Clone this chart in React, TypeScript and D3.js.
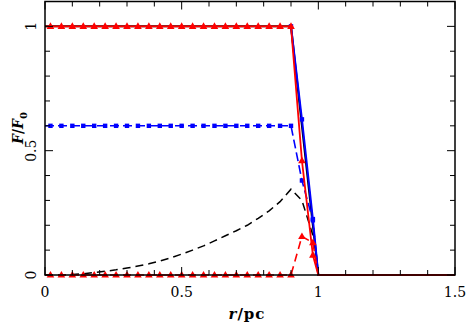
import React from "react";
import * as d3 from "d3";

const r = [0, 0.02, 0.06, 0.10, 0.14, 0.18, 0.22, 0.26, 0.30, 0.34, 0.38, 0.42, 0.46, 0.50, 0.54, 0.58, 0.62, 0.66, 0.70, 0.74, 0.78, 0.82, 0.86, 0.90, 0.94, 0.98, 1.00, 1.50];

const redSolid = [1, 1, 1, 1, 1, 1, 1, 1, 1, 1, 1, 1, 1, 1, 1, 1, 1, 1, 1, 1, 1, 1, 1, 1, 0.46, 0.08, 0, 0];
const redDashed = [0, 0, 0, 0, 0, 0, 0, 0, 0, 0, 0, 0, 0, 0, 0, 0, 0, 0, 0, 0, 0, 0, 0, 0, 0.155, 0.13, 0, 0];
const blueDashed = [0.6, 0.6, 0.6, 0.6, 0.6, 0.6, 0.6, 0.6, 0.6, 0.6, 0.6, 0.6, 0.6, 0.6, 0.6, 0.6, 0.6, 0.6, 0.6, 0.6, 0.6, 0.6, 0.6, 0.6, 0.38, 0.22, 0, 0];
const blueSolid = [1, 1, 1, 1, 1, 1, 1, 1, 1, 1, 1, 1, 1, 1, 1, 1, 1, 1, 1, 1, 1, 1, 1, 1, 0.626, 0.225, 0, 0];
const blackSolid = [1, 1, 1, 1, 1, 1, 1, 1, 1, 1, 1, 1, 1, 1, 1, 1, 1, 1, 1, 1, 1, 1, 1, 1, 0.6, 0.2, 0, 0];
const blackDashed = [0, 0, 0, 0.002, 0.005, 0.01, 0.015, 0.021, 0.028, 0.036, 0.045, 0.056, 0.069, 0.084, 0.1, 0.117, 0.137, 0.158, 0.178, 0.2, 0.228, 0.258, 0.295, 0.345, 0.3, 0.16, 0, 0];

const xMajor = [0, 0.5, 1, 1.5];
const xMajorLabels = ["0", "0.5", "1", "1.5"];
const xMinor = [0.1, 0.2, 0.3, 0.4, 0.6, 0.7, 0.8, 0.9, 1.1, 1.2, 1.3, 1.4];
const yMajor = [0, 0.5, 1];
const yMajorLabels = ["0", "0.5", "1"];
const yMinor = [0.1, 0.2, 0.3, 0.4, 0.6, 0.7, 0.8, 0.9];

const W = 466, H = 327;
const L = 45, R = 455, T = 1.5, B = 275;

export default function App() {
  const x = d3.scaleLinear().domain([0, 1.5]).range([L, R]);
  const y = d3.scaleLinear().domain([0, 1.1]).range([B, T]);
  const line = (vals: number[], start = 0) =>
    d3.line<number>().x((_, i) => x(r[i + start])).y((v) => y(v))(vals.slice(start)) || "";

  const markerIdx = (from: number, to: number) => r.map((_, i) => i).filter((i) => i >= from && i <= to);

  const tri = (cx: number, cy: number, key: string) => (
    <path key={key} d={`M${cx},${cy - 4} L${cx + 3.8},${cy + 2.6} L${cx - 3.8},${cy + 2.6} Z`} fill="#ff0000" />
  );
  const sq = (cx: number, cy: number, key: string) => (
    <rect key={key} x={cx - 2.2} y={cy - 2.2} width={4.4} height={4.4} fill="#0000ff" />
  );

  const font = "'DejaVu Serif', serif";
  const majLen = 8, minLen = 5;

  return (
    <svg width={W} height={H} style={{ position: "absolute", left: 0, top: 0, background: "#fff" }}>
      <rect x={0} y={0} width={W} height={H} fill="#fff" />
      <path d={line(blackDashed)} fill="none" stroke="#000" strokeWidth={1.5} strokeDasharray="8,5" />
      <path d={line(blackSolid)} fill="none" stroke="#000" strokeWidth={2} />
      <path d={line(blueDashed)} fill="none" stroke="#0000ff" strokeWidth={1.6} strokeDasharray="9,4" />
      {markerIdx(1, 25).map((i) => sq(x(r[i]), y(blueDashed[i]), "bd" + i))}
      <path d={line(blueSolid, 23)} fill="none" stroke="#0000ff" strokeWidth={2} />
      {markerIdx(23, 25).map((i) => sq(x(r[i]), y(blueSolid[i]), "bs" + i))}
      <path d={line(redDashed)} fill="none" stroke="#ff0000" strokeWidth={1.6} strokeDasharray="8,5" />
      {markerIdx(1, 25).map((i) => tri(x(r[i]), y(redDashed[i]), "rd" + i))}
      <path d={line(redSolid)} fill="none" stroke="#ff0000" strokeWidth={1.8} />
      {markerIdx(1, 25).map((i) => tri(x(r[i]), y(redSolid[i]), "rs" + i))}

      <rect x={L} y={T} width={R - L} height={B - T} fill="none" stroke="#000" strokeWidth={1.5} />
      {xMajor.map((v) => (
        <g key={"xM" + v}>
          <line x1={x(v)} x2={x(v)} y1={B} y2={B - majLen} stroke="#000" strokeWidth={1} />
          <line x1={x(v)} x2={x(v)} y1={T} y2={T + majLen} stroke="#000" strokeWidth={1} />
        </g>
      ))}
      {xMinor.map((v) => (
        <g key={"xm" + v}>
          <line x1={x(v)} x2={x(v)} y1={B} y2={B - minLen} stroke="#000" strokeWidth={1} />
          <line x1={x(v)} x2={x(v)} y1={T} y2={T + minLen} stroke="#000" strokeWidth={1} />
        </g>
      ))}
      {yMajor.map((v) => (
        <g key={"yM" + v}>
          <line x1={L} x2={L + majLen} y1={y(v)} y2={y(v)} stroke="#000" strokeWidth={1} />
          <line x1={R} x2={R - majLen} y1={y(v)} y2={y(v)} stroke="#000" strokeWidth={1} />
        </g>
      ))}
      {yMinor.map((v) => (
        <g key={"ym" + v}>
          <line x1={L} x2={L + minLen} y1={y(v)} y2={y(v)} stroke="#000" strokeWidth={1} />
          <line x1={R} x2={R - minLen} y1={y(v)} y2={y(v)} stroke="#000" strokeWidth={1} />
        </g>
      ))}
      {xMajor.map((v, i) => (
        <text key={"xl" + v} x={x(v)} y={297} textAnchor="middle" fontFamily={font} fontSize={14} fill="#000">
          {xMajorLabels[i]}
        </text>
      ))}
      {yMajor.map((v, i) => (
        <text key={"yl" + v} transform={`translate(36,${y(v)}) rotate(-90)`} textAnchor="middle" fontFamily={font} fontSize={14} fill="#000">
          {yMajorLabels[i]}
        </text>
      ))}
      <text x={247} y={319} textAnchor="middle" fontFamily={font} fontSize={15} fontWeight="bold" letterSpacing={1} fill="#000">
        <tspan fontStyle="italic">r</tspan>/pc
      </text>
      <text transform="translate(23,128) rotate(-90)" textAnchor="middle" fontFamily={font} fontSize={14} fontWeight="bold" fill="#000">
        <tspan fontStyle="italic">F</tspan>/<tspan fontStyle="italic">F</tspan>
        <tspan fontSize={10} dy={4}>0</tspan>
      </text>
    </svg>
  );
}
